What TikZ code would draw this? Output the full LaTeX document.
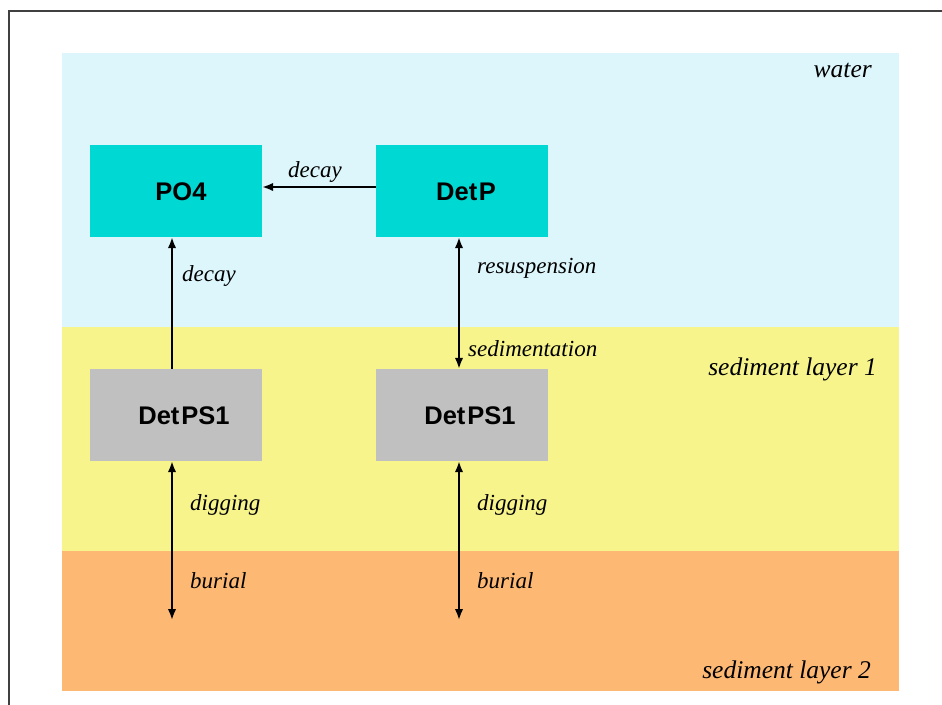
\documentclass[tikz,border=0pt]{standalone}
\usepackage{fontspec}
\setmainfont{Liberation Serif}
\newfontfamily\boxfont{Liberation Sans}
\usetikzlibrary{arrows.meta}

\definecolor{watercol}{HTML}{DDF6FB}
\definecolor{sedonecol}{HTML}{F8F48C}
\definecolor{sedtwocol}{HTML}{FDB874}
\definecolor{poolcyan}{HTML}{00D8D4}
\definecolor{poolgray}{HTML}{C0C0C0}
\definecolor{framecol}{HTML}{404040}

\tikzset{
  pool/.style={minimum width=172pt, minimum height=92pt, inner sep=0pt,
    text depth=0pt, font=\boxfont\fontsize{25.5}{28}\selectfont\bfseries},
  cyanpool/.style={pool, fill=poolcyan},
  graypool/.style={pool, fill=poolgray},
  flux/.style={line width=1.9pt, -{Latex[length=11pt,width=8.5pt]}},
  twoflux/.style={line width=1.9pt, {Latex[length=11pt,width=8.5pt]}-{Latex[length=11pt,width=8.5pt]}},
  fluxlabel/.style={inner sep=0pt, font=\fontsize{23}{26}\selectfont\itshape},
  layerlabel/.style={inner sep=0pt, font=\fontsize{25.5}{28}\selectfont\itshape}
}

\begin{document}
\begin{tikzpicture}[x=1pt, y=-1pt]
  \useasboundingbox (0,0) rectangle (942,704);
  \fill[white] (0,0) rectangle (942,704);

  % outer frame, running past the right and bottom edges
  \draw[framecol, line width=1.5pt] (9,720) -- (9,11) -- (960,11);

  % layers
  \fill[watercol]  (62,53)  rectangle (899,327);
  \fill[sedonecol] (62,327) rectangle (899,551);
  \fill[sedtwocol] (62,551) rectangle (899,691);

  \node[layerlabel, anchor=mid east] (lw) at (872,75) {water};
  \node[layerlabel, anchor=mid east] (l1) at (877,373) {sediment layer 1};
  \node[layerlabel, anchor=mid east] (l2) at (871,676) {sediment layer 2};

  % pools
  \node[cyanpool] (po4)  at (176,191) {};
  \node[cyanpool] (detp) at (462,191) {};
  \node[graypool] (psa)  at (176,415) {};
  \node[graypool] (psb)  at (462,415) {};
  \node[pool, anchor=center] (po4t)  at (181,192) {PO4};
  \node[pool, anchor=center] (detpt) at (466,192) {Det\kern1.5pt P};
  \node[pool, anchor=center] (psat)  at (184,416) {Det\kern2pt PS1};
  \node[pool, anchor=center] (psbt)  at (470,416) {Det\kern2pt PS1};

  % lower ends of the burial fluxes
  \coordinate (enda) at (172,620);
  \coordinate (endb) at (459,620);

  % fluxes
  \draw[flux] ([yshift=4pt]detp.west) -- ([yshift=4pt]po4.east);
  \draw[flux] ([xshift=-4pt]psa.north) -- ([xshift=-4pt]po4.south);
  \draw[twoflux] ([xshift=-3pt]detp.south) -- ([xshift=-3pt]psb.north);
  \draw[twoflux] ([xshift=-4pt]psa.south) -- (enda);
  \draw[twoflux] ([xshift=-3pt]psb.south) -- (endb);

  % flux labels
  \node[fluxlabel, anchor=mid] (t1) at (315,175) {decay};
  \node[fluxlabel, anchor=mid west] (t2) at (182,279) {decay};
  \node[fluxlabel, anchor=mid west] (t3) at (477,271) {resuspension};
  \node[fluxlabel, anchor=mid west] (t4) at (468,354) {sedimentation};
  \node[fluxlabel, anchor=mid west] (t5) at (190,508) {digging};
  \node[fluxlabel, anchor=mid west] (t6) at (190,586) {burial};
  \node[fluxlabel, anchor=mid west] (t7) at (477,508) {digging};
  \node[fluxlabel, anchor=mid west] (t8) at (477,586) {burial};
\end{tikzpicture}
\end{document}
